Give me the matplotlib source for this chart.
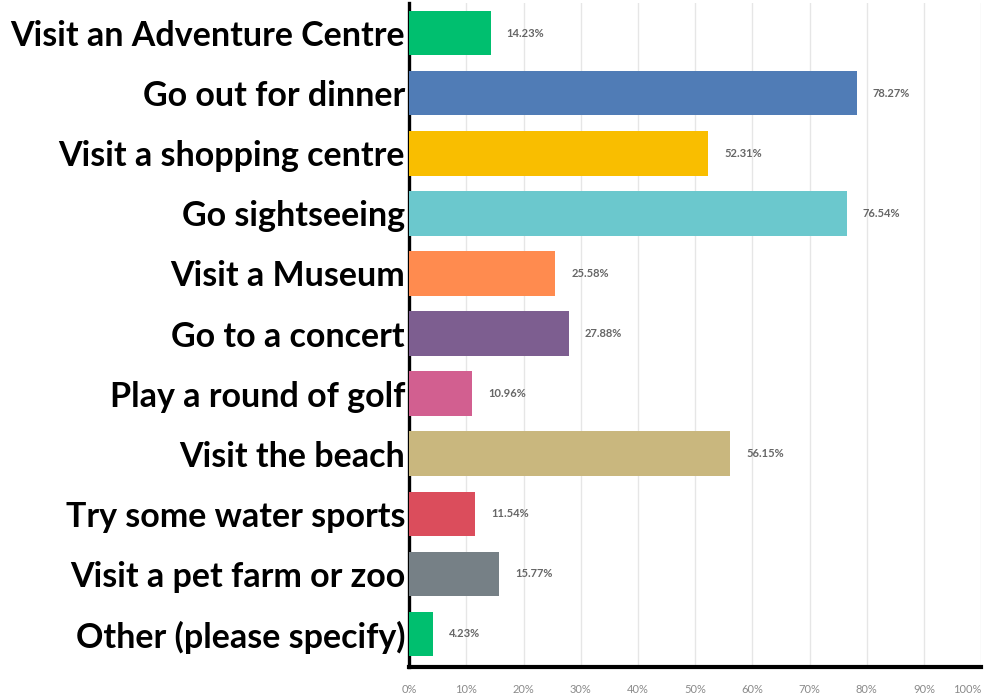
import matplotlib.pyplot as plt

activities = ['Visit an Adventure Centre', 'Go out for dinner', 'Visit a shopping centre',
              'Go sightseeing', 'Visit a Museum', 'Go to a concert', 'Play a round of golf',
              'Visit the beach', 'Try some water sports', 'Visit a pet farm or zoo',
              'Other (please specify)']
percent = [14.23, 78.27, 52.31, 76.54, 25.58, 27.88, 10.96, 56.15, 11.54, 15.77, 4.23]
colours = ['#00BF6F', '#507CB6', '#F9BE00', '#6BC8CD', '#FF8B4F', '#7D5E90',
           '#D25F90', '#C9B77E', '#DB4D5C', '#768086', '#00BF6F']
ticks = list(range(0, 101, 10))

fig = plt.figure(figsize=(9.86, 6.93), dpi=100)
ax = fig.add_axes([0.415, 0.0375, 0.58, 0.958])

y = range(len(activities))
ax.barh(y, percent, height=0.74, color=colours, zorder=3)
for yi, v in zip(y, percent):
    ax.text(v + 2.8, yi, f'{v:.2f}%', va='center', ha='left', fontsize=8,
            color='#666666', fontweight='bold', family='Lato')

ax.set_xlim(0, 100)
ax.set_ylim(10.55, -0.5)
ax.set_yticks(list(y))
ax.set_yticklabels(activities, fontsize=24.5, fontweight='bold', family='Lato')
ax.tick_params(axis='y', length=0, pad=3)
ax.set_xticks(ticks)
ax.set_xticklabels([f'{t}%' for t in ticks], fontsize=8, color='#8a8a8a', family='Lato')
ax.get_xticklabels()[-1].set_horizontalalignment('right')
ax.tick_params(axis='x', length=0, pad=12)
ax.grid(axis='x', color='#e6e6e6', lw=1, zorder=0)

for s in ['top', 'right']:
    ax.spines[s].set_visible(False)
ax.spines['left'].set_linewidth(2.4)
ax.spines['bottom'].set_linewidth(3)

fig.savefig('out.png', dpi=100)
